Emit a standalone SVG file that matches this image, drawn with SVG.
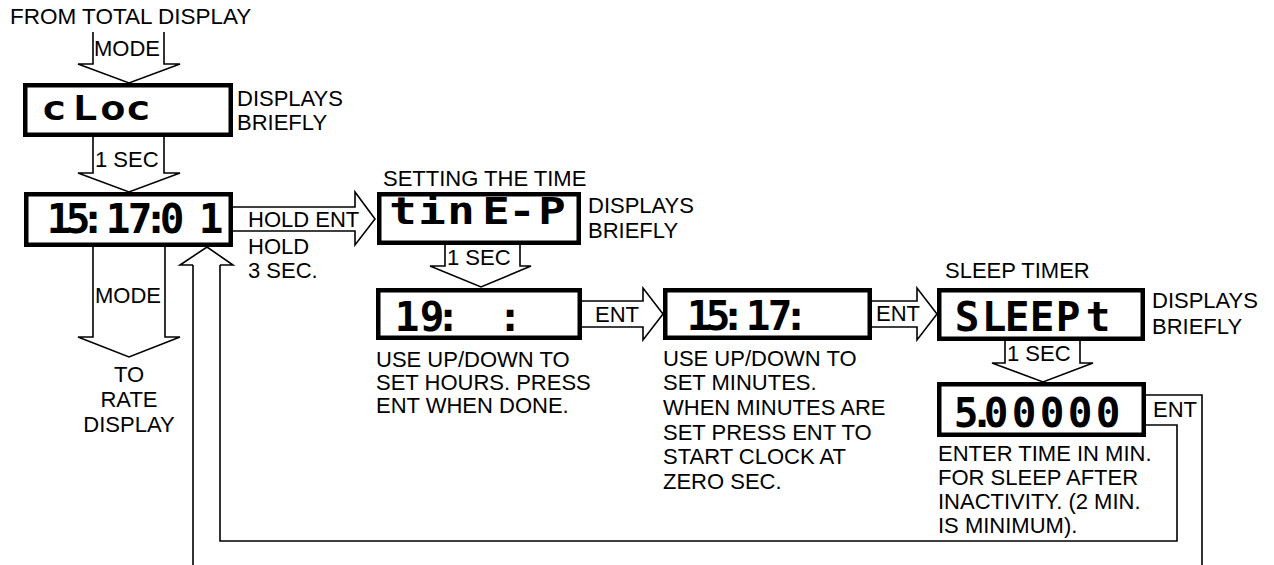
<svg xmlns="http://www.w3.org/2000/svg" width="1274" height="565" viewBox="0 0 1274 565">
<style>
.t{font-family:"Liberation Sans",Arial,sans-serif;font-size:22px;fill:#000}
.c{text-anchor:middle}
.lcd{font-family:"DejaVu Sans Mono",monospace;font-weight:bold;font-size:41px;fill:#000;text-anchor:middle}
.box{fill:#fff;stroke:#000;stroke-width:4.5}
.arr{fill:#fff;stroke:#000;stroke-width:1.6;stroke-linejoin:miter}
.ln{fill:none;stroke:#000;stroke-width:1.6}
</style>
<rect width="1274" height="565" fill="#fff"/>
<g id="connectors">
<path class="arr" d="M93 32 V64 H78 L129 83 L180 64 H164 V32"/>
<path class="arr" d="M93 137 V173 H78 L129 192 L180 173 H164 V137"/>
<path class="arr" d="M233 207 H355 V192 L375 219 L355 245 V231 H233"/>
<path class="arr" d="M93 247 V337 H78 L129 357 L180 337 H165 V247"/>
<path class="ln" d="M193 565 V265 M220 265 V541 H1177 V425 H1146"/>
<path class="ln" d="M1146 395 H1202 V565"/>
<path class="arr" d="M193 265 H180 L207 247 L233 265 H220"/>
<path class="arr" d="M445 245 V266 H430 L481 287 L531 266 H520 V245"/>
<path class="arr" d="M582 301 H643 V288 L663 314 L643 340 V327 H582"/>
<path class="arr" d="M872 301 H917 V288 L937 314 L917 340 V327 H872"/>
<path class="arr" d="M1005 341 V363 H992 L1043 382 L1093 363 H1080 V341"/>
<text class="t" x="94" y="56">MODE</text>
<text class="t" x="95" y="167">1 SEC</text>
<text class="t" x="95" y="303">MODE</text>
<text class="t" x="248" y="227">HOLD ENT</text>
<text class="t" x="447" y="265">1 SEC</text>
<text class="t" x="595" y="322">ENT</text>
<text class="t" x="876" y="321">ENT</text>
<text class="t" x="1007" y="361">1 SEC</text>
<text class="t" x="1153" y="417">ENT</text>
</g>
<g id="from-total">
<text class="t" x="10" y="24" style="font-size:22.5px">FROM TOTAL DISPLAY</text>
</g>
<g id="node-cloc">
<rect class="box" x="25.25" y="85.25" width="205.5" height="49.5"/>
<text class="lcd" transform="scale(1.3 1)" x="41.5 65.4 86.9 106.2" y="120" style="font-size:33px">cLoc</text>
<text class="t" x="237" y="106">DISPLAYS</text>
<text class="t" x="237" y="130">BRIEFLY</text>
</g>
<g id="node-clock">
<rect class="box" x="26.25" y="194.25" width="204.5" height="50.5"/>
<text class="lcd" x="59 78 93 118 140 156 172 211" y="233">15:17:01</text>
<text class="t" x="248" y="254">HOLD</text>
<text class="t" x="248" y="278">3 SEC.</text>
</g>
<g id="node-rate">
<text class="t c" x="129" y="382">TO</text>
<text class="t c" x="129" y="407">RATE</text>
<text class="t c" x="129" y="432">DISPLAY</text>
</g>
<g id="node-time-p">
<text class="t" x="383" y="186">SETTING THE TIME</text>
<rect class="box" x="379.25" y="194.25" width="199.5" height="48.5"/>
<text class="lcd" transform="scale(1.2 1)" x="335.8 360 384.2 413.3 435 460" y="224" style="font-size:38px">tinE-P</text>
<text class="t" x="588" y="213">DISPLAYS</text>
<text class="t" x="588" y="238">BRIEFLY</text>
</g>
<g id="node-hours">
<rect class="box" x="378.25" y="290.25" width="201.5" height="47.5"/>
<text class="lcd" x="407 432 448 510" y="331">19::</text>
<text class="t" x="376" y="367">USE UP/DOWN TO</text>
<text class="t" x="376" y="390">SET HOURS. PRESS</text>
<text class="t" x="376" y="413">ENT WHEN DONE.</text>
</g>
<g id="node-minutes">
<rect class="box" x="665.25" y="290.25" width="204.5" height="47.5"/>
<text class="lcd" x="699 718 733 758 780 796" y="330">15:17:</text>
<text class="t" x="663" y="366">USE UP/DOWN TO</text>
<text class="t" x="663" y="390">SET MINUTES.</text>
<text class="t" x="663" y="415">WHEN MINUTES ARE</text>
<text class="t" x="663" y="440">SET PRESS ENT TO</text>
<text class="t" x="663" y="464">START CLOCK AT</text>
<text class="t" x="663" y="489">ZERO SEC.</text>
</g>
<g id="node-sleept">
<text class="t" x="945" y="278">SLEEP TIMER</text>
<rect class="box" x="939.25" y="290.25" width="203.5" height="48.5"/>
<text class="lcd" x="967 994 1017 1042 1068 1098" y="331">SLEEPt</text>
<text class="t" x="1152" y="308">DISPLAYS</text>
<text class="t" x="1152" y="334">BRIEFLY</text>
</g>
<g id="node-sleep-value">
<rect class="box" x="939.25" y="384.25" width="204.5" height="50.5"/>
<text class="lcd" x="966 982 996 1024 1052 1080 1108" y="427">5.00000</text>
<text class="t" x="938" y="461">ENTER TIME IN MIN.</text>
<text class="t" x="938" y="485">FOR SLEEP AFTER</text>
<text class="t" x="938" y="509">INACTIVITY. (2 MIN.</text>
<text class="t" x="938" y="533">IS MINIMUM).</text>
</g>
</svg>
